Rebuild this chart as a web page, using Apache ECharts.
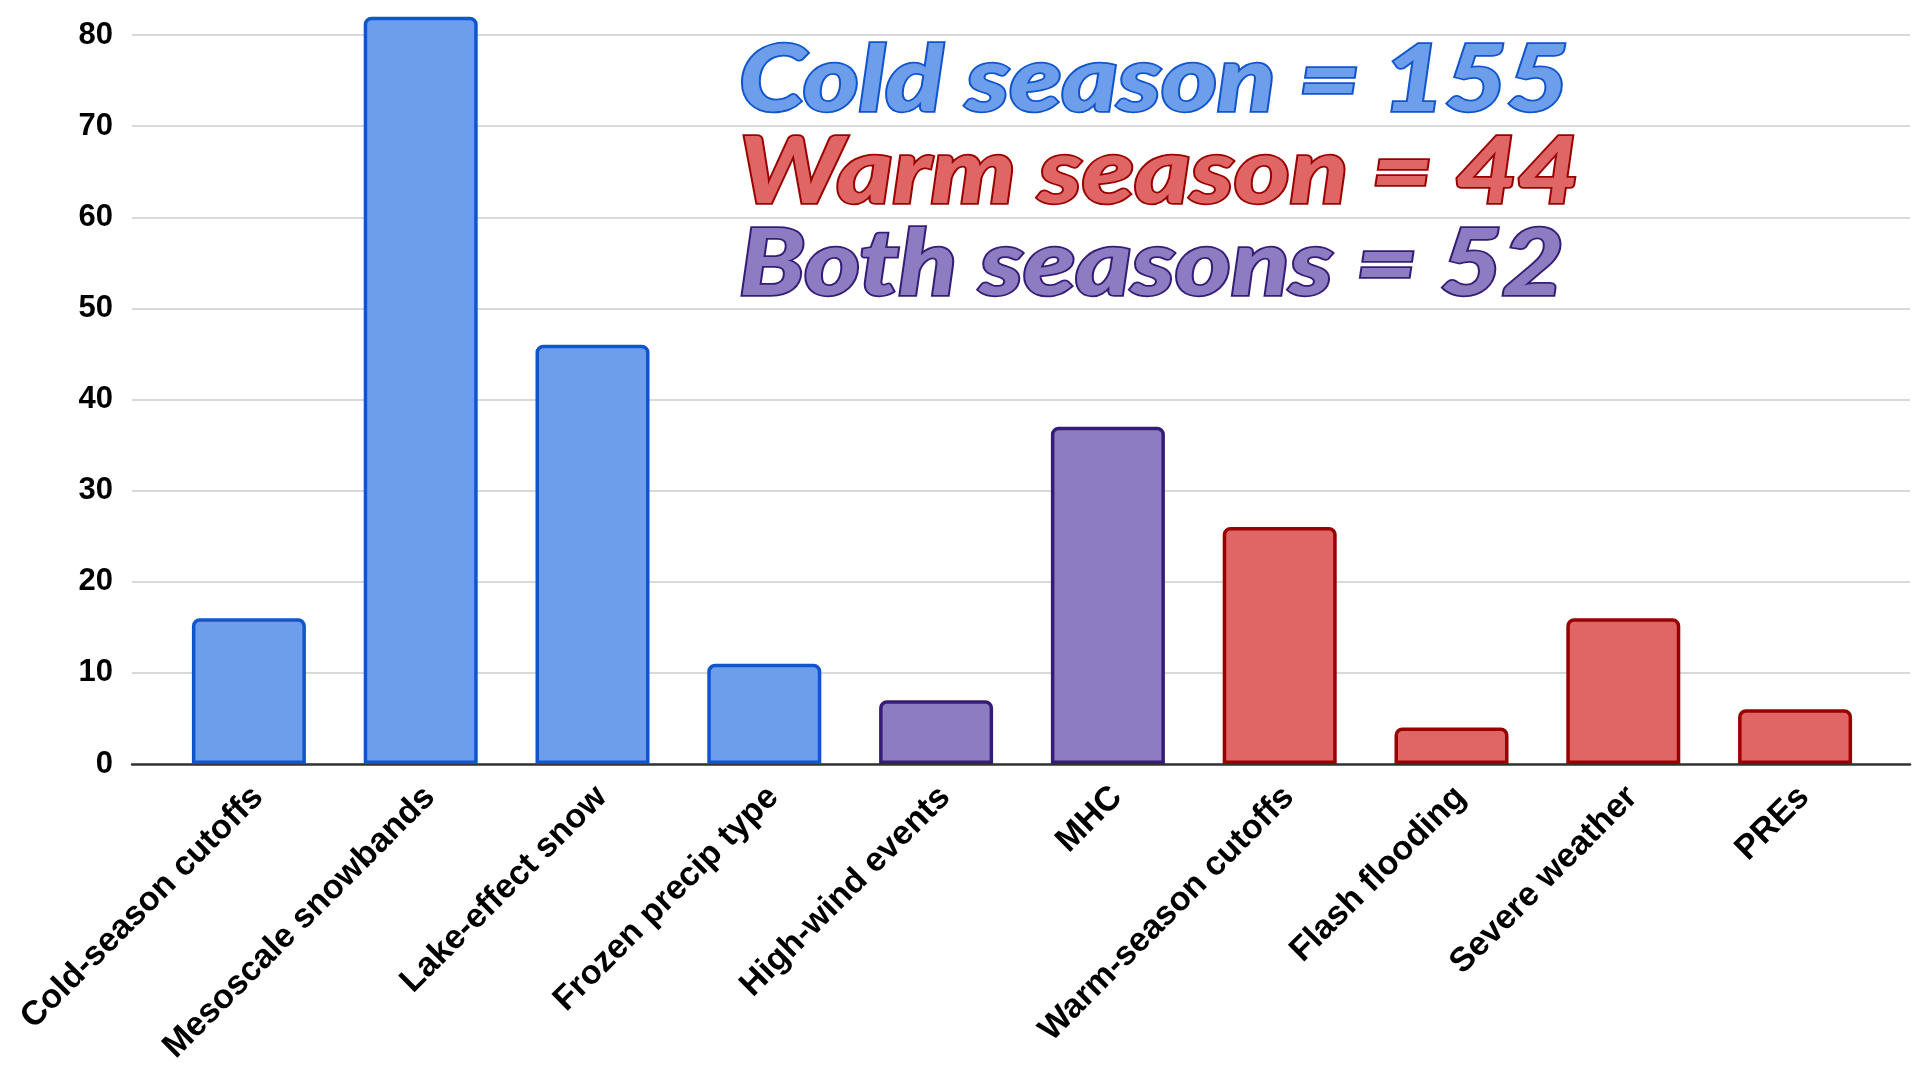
<!DOCTYPE html>
<html>
<head>
<meta charset="utf-8">
<script src="https://cdn.jsdelivr.net/npm/echarts@6/dist/echarts.min.js"></script>
<style>
  html, body { margin: 0; padding: 0; background: #ffffff; }
  #chart { width: 1921px; height: 1074px; }
</style>
</head>
<body>
<div id="chart"></div>
<script>
// Case counts by event type
const categories = [
  'Cold-season cutoffs', 'Mesoscale snowbands', 'Lake-effect snow', 'Frozen precip type',
  'High-wind events', 'MHC', 'Warm-season cutoffs', 'Flash flooding', 'Severe weather', 'PREs'
];
const counts = [16, 82, 46, 11, 7, 37, 26, 4, 16, 6];
// season group of each category: 'cold', 'both', 'warm'
const groups = ['cold', 'cold', 'cold', 'cold', 'both', 'both', 'warm', 'warm', 'warm', 'warm'];
const yTicks = [0, 10, 20, 30, 40, 50, 60, 70, 80];
const summaryLines = ['Cold season = 155', 'Warm season = 44', 'Both seasons = 52'];
const summaryGroups = ['cold', 'warm', 'both'];

const palette = {
  cold: { fill: '#6d9eeb', stroke: '#1155cc' },
  warm: { fill: '#e06666', stroke: '#990000' },
  both: { fill: '#8e7cc3', stroke: '#351c75' }
};

const chart = echarts.init(document.getElementById('chart'), null, { renderer: 'canvas' });

const yMin = yTicks[0];
const yMax = yTicks[yTicks.length - 1];
const yStep = yTicks[1] - yTicks[0];

const barData = counts.map((v, i) => ({
  value: v,
  itemStyle: {
    color: palette[groups[i]].fill,
    borderColor: palette[groups[i]].stroke
  }
}));

// Season totals, drawn as a wide outlined italic headline
const summaryGraphics = summaryLines.map((txt, i) => ({
  type: 'text',
  x: 739,
  y: 35 + i * 92,
  scaleX: 1.16,
  z: 100,
  style: {
    text: txt,
    font: 'italic 900 92px Lato, "DejaVu Sans", sans-serif',
    fill: palette[summaryGroups[i]].fill,
    stroke: palette[summaryGroups[i]].stroke,
    lineWidth: 3.5,
    strokeFirst: true
  }
}));

const hiddenValueAxis = (gridIndex) => ({
  gridIndex, type: 'value', min: yMin, max: yMax, interval: yStep,
  show: false, splitLine: { show: false }
});

chart.setOption({
  animation: false,
  backgroundColor: '#ffffff',
  grid: [
    { left: 132, right: 11, top: 35, bottom: 310 },  // gridlines + baseline
    { left: 163, right: 40, top: 35, bottom: 310 },  // bars
    { left: 172, right: 31, top: 35, bottom: 310 }   // slanted category labels
  ],
  xAxis: [
    {
      gridIndex: 0, type: 'category', data: [''],
      axisLine: { show: true, lineStyle: { color: '#333333', width: 2.5 } },
      axisTick: { show: false }, axisLabel: { show: false }, splitLine: { show: false }
    },
    {
      gridIndex: 1, type: 'category', data: categories,
      axisLine: { show: false }, axisTick: { show: false }, axisLabel: { show: false }
    },
    {
      gridIndex: 2, type: 'category', data: categories,
      axisLine: { show: false }, axisTick: { show: false },
      axisLabel: {
        interval: 0, rotate: 45, margin: 28,
        color: '#000000', fontSize: 34, fontWeight: 'bold',
        fontFamily: '"Liberation Sans", Arial, sans-serif'
      }
    }
  ],
  yAxis: [
    {
      gridIndex: 0, type: 'value', min: yMin, max: yMax, interval: yStep,
      axisLine: { show: false }, axisTick: { show: false },
      axisLabel: {
        margin: 19, color: '#000000', fontSize: 31, fontWeight: 'bold',
        fontFamily: '"Liberation Sans", Arial, sans-serif'
      },
      splitLine: { show: true, lineStyle: { color: '#cccccc', width: 1.5 } }
    },
    hiddenValueAxis(1),
    hiddenValueAxis(2)
  ],
  series: [
    {
      type: 'bar',
      xAxisIndex: 1, yAxisIndex: 1,
      data: barData,
      barWidth: 114,
      clip: false,
      z: 5,
      itemStyle: { borderWidth: 3.5, borderRadius: [6, 6, 0, 0] }
    }
  ],
  graphic: summaryGraphics
});
</script>
</body>
</html>
